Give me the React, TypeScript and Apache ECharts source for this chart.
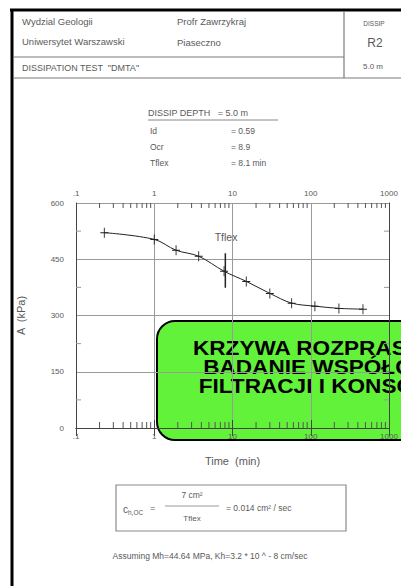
import React, { useEffect, useRef } from "react";
import * as echarts from "echarts";

// ---- data ----
const xTicks = [0.1, 1, 10, 100, 1000];
const xTickLabels = [".1", "1", "10", "100", "1000"];
const yTicks = [0, 150, 300, 450, 600];
const yMinorTicks = [75, 225, 375, 525];
const minorMultipliers = [2, 3, 4, 5, 6, 7, 8, 9];
const times = [0.23, 1.0, 1.9, 3.7, 7.8, 15, 30, 57, 113, 229, 465];
const pressures = [521, 503, 474, 458, 418, 391, 359, 333, 325, 319, 317];
const tflexTime = [8.1, 8.1];
const tflexBar = [466, 374];
const boxLines = ["KRZYWA ROZPRASZANIA", "BADANIE WSPÓŁCZYNNIKA", "FILTRACJI I KONSOLIDACJI"];

const GRAY = "#5a5a5a";
const FONT = "'Liberation Sans', Arial, sans-serif";

export default function App() {
  const ref = useRef<HTMLDivElement>(null);
  useEffect(() => {
    if (!ref.current) return;
    const chart = echarts.init(ref.current, undefined, { renderer: "svg" });

    const xMinor: number[][] = [];
    xTicks.slice(0, -1).forEach((d) => minorMultipliers.forEach((m) => xMinor.push([d * m, 0])));
    const yMinor = yMinorTicks.map((v) => [xTicks[0], v]);

    const fmtX = (v: number) => {
      const i = xTicks.findIndex((t) => Math.abs(t - v) / t < 1e-6);
      return i >= 0 ? xTickLabels[i] : "";
    };

    const txt = (x: number, y: number, text: string, size: number, extra: any = {}) => ({
      type: "text",
      x,
      y,
      style: { text, fontSize: size, fill: GRAY, fontFamily: FONT, verticalAlign: "middle", ...extra },
    });
    const ln = (x1: number, y1: number, x2: number, y2: number, w = 1, c = "#888") => ({
      type: "line",
      shape: { x1, y1, x2, y2 },
      style: { stroke: c, lineWidth: w },
    });

    const boxStyle = { fontSize: 20, fontWeight: "bold", fill: "#000", fontFamily: FONT, lineHeight: 19 };

    const option: any = {
      animation: false,
      backgroundColor: "#fff",
      grid: { left: 76, top: 203, width: 313, height: 225 },
      xAxis: [
        {
          type: "log", logBase: 10, min: 0.1, max: 1000, position: "bottom",
          axisLine: { show: true, lineStyle: { color: "#444" } },
          axisTick: { show: true, inside: true, length: 8, lineStyle: { color: "#444" } },
          axisLabel: { formatter: fmtX, color: GRAY, fontSize: 8, fontFamily: FONT, margin: 4 },
          splitLine: { show: true, lineStyle: { color: "#9a9a9a", width: 1 } },
          name: "Time  (min)", nameLocation: "middle", nameGap: 27,
          nameTextStyle: { color: GRAY, fontSize: 11, fontFamily: FONT },
        },
        {
          type: "log", logBase: 10, min: 0.1, max: 1000, position: "top",
          axisLine: { show: true, lineStyle: { color: "#444" } },
          axisTick: { show: true, inside: true, length: 8, lineStyle: { color: "#444" } },
          axisLabel: { formatter: fmtX, color: GRAY, fontSize: 8, fontFamily: FONT, margin: 6 },
          splitLine: { show: false },
        },
      ],
      yAxis: [
        {
          type: "value", min: yTicks[0], max: yTicks[yTicks.length - 1], interval: 150, position: "left",
          axisLine: { show: true, lineStyle: { color: "#444" } },
          axisTick: { show: false },
          axisLabel: { color: GRAY, fontSize: 8, fontFamily: FONT, margin: 12 },
          splitLine: { show: true, lineStyle: { color: "#9a9a9a", width: 1 } },
          name: "A  (kPa)", nameLocation: "middle", nameGap: 50, nameRotate: 90,
          nameTextStyle: { color: GRAY, fontSize: 11, fontFamily: FONT },
        },
        {
          type: "value", min: yTicks[0], max: yTicks[yTicks.length - 1], interval: 150, position: "right",
          axisLine: { show: true, lineStyle: { color: "#444" } },
          axisTick: { show: false }, axisLabel: { show: false }, splitLine: { show: false },
        },
      ],
      series: [
        {
          type: "custom",
          coordinateSystem: "cartesian2d",
          data: xMinor,
          silent: true,
          renderItem: (params: any, api: any) => {
            const v = api.value(0);
            const top = api.coord([v, 600]);
            const bot = api.coord([v, 0]);
            const len = 5;
            return {
              type: "group",
              children: [
                { type: "line", shape: { x1: top[0], y1: top[1], x2: top[0], y2: top[1] + len }, style: { stroke: "#555", lineWidth: 1 } },
                { type: "line", shape: { x1: bot[0], y1: bot[1], x2: bot[0], y2: bot[1] - len - 1 }, style: { stroke: "#555", lineWidth: 1 } },
              ],
            };
          },
        },
        {
          type: "custom",
          coordinateSystem: "cartesian2d",
          data: yMinor,
          silent: true,
          renderItem: (params: any, api: any) => {
            const v = api.value(1);
            const l = api.coord([0.1, v]);
            const r = api.coord([1000, v]);
            return {
              type: "group",
              children: [
                { type: "line", shape: { x1: l[0], y1: l[1], x2: l[0] + 5, y2: l[1] }, style: { stroke: "#999", lineWidth: 1 } },
                { type: "line", shape: { x1: r[0], y1: r[1], x2: r[0] - 5, y2: r[1] }, style: { stroke: "#999", lineWidth: 1 } },
              ],
            };
          },
        },
        {
          type: "line",
          data: times.map((t, i) => [t, pressures[i]]),
          smooth: 0.35,
          lineStyle: { color: "#222", width: 1 },
          symbol: "path://M4,0 L5,0 L5,10 L4,10 Z M0,4.5 L9,4.5 L9,5.5 L0,5.5 Z",
          symbolSize: [8, 10],
          itemStyle: { color: "#222", borderWidth: 0 },
        },
        {
          type: "line",
          data: tflexTime.map((t, i) => [t, tflexBar[i]]),
          symbol: "none",
          lineStyle: { color: "#222", width: 1.5 },
        },
      ],
      graphic: [
        // outer frame
        ln(10, 10, 401, 10, 3, "#000"),
        ln(12, 9, 12, 586, 3, "#000"),
        // header lines
        ln(13, 57, 344, 57, 1.2, "#7a7a7a"),
        ln(13, 78, 401, 78, 1.2, "#7a7a7a"),
        ln(344, 11, 344, 78, 1.2, "#7a7a7a"),
        txt(22, 21, "Wydzial Geologii", 9.5),
        txt(22, 41, "Uniwersytet Warszawski", 9.5),
        txt(177, 21, "Profr Zawrzykraj", 9.5),
        txt(177, 42, "Piaseczno", 9.5),
        txt(22, 68, "DISSIPATION TEST  \"DMTA\"", 9),
        txt(374, 23, "DISSIP", 6.5, { align: "center" }),
        txt(375, 43, "R2", 12, { align: "center" }),
        txt(373, 66, "5.0 m", 8, { align: "center" }),
        // info block
        txt(148, 113, "DISSIP DEPTH   = 5.0 m", 9),
        ln(148, 120, 278, 120, 1, "#888"),
        txt(150, 131, "Id", 8.5),
        txt(231, 131, "= 0.59", 8.5),
        txt(150, 147, "Ocr", 8.5),
        txt(231, 147, "= 8.9", 8.5),
        txt(150, 163, "Tflex", 8.5),
        txt(231, 163, "= 8.1 min", 8.5),
        // Tflex label
        txt(226, 237, "Tflex", 10.5, { align: "center" }),
        // formula box
        { type: "rect", shape: { x: 116, y: 485, width: 230, height: 46 }, style: { fill: "none", stroke: "#8a8a8a", lineWidth: 1.2 } },
        {
          type: "text", x: 123, y: 509,
          style: {
            text: "{a|c}{b|h,OC}", fontFamily: FONT, verticalAlign: "middle",
            rich: { a: { fontSize: 10, fill: GRAY, fontFamily: FONT }, b: { fontSize: 6.5, fill: GRAY, fontFamily: FONT, padding: [6, 0, 0, 0] } },
          },
        },
        txt(150, 508, "=", 9),
        txt(192, 495, "7 cm²", 8.5, { align: "center" }),
        ln(165, 506, 219, 506, 1, "#999"),
        txt(192, 518, "Tflex", 8, { align: "center" }),
        txt(226, 508, "= 0.014 cm² / sec", 8.5),
        txt(210, 556, "Assuming Mh=44.64 MPa, Kh=3.2 * 10 ^ - 8 cm/sec", 8.5, { align: "center" }),
        // green label box
        {
          type: "group", z: 100,
          children: [
            { type: "rect", shape: { x: 157, y: 321, width: 300, height: 119, r: 18 }, style: { fill: "#62F23A", stroke: "#000", lineWidth: 2 } },
            {
              type: "text", x: 193, y: 339, scaleX: 1.13,
              style: {
                text: `{a|${boxLines[0]}}\n{b|${boxLines[1]}}\n{c|${boxLines[2]}}`,
                fontFamily: FONT, fontSize: 20, fontWeight: "bold", fill: "#000", lineHeight: 19, verticalAlign: "top",
                rich: {
                  a: { ...boxStyle },
                  b: { ...boxStyle, padding: [0, 0, 0, 9] },
                  c: { ...boxStyle, padding: [0, 0, 0, 5] },
                },
              },
            },
          ],
        },
      ],
    };
    chart.setOption(option);
    return () => chart.dispose();
  }, []);
  return (
    <div
      ref={ref}
      style={{ position: "absolute", left: 0, top: 0, width: 401, height: 586, overflow: "hidden" }}
    />
  );
}
